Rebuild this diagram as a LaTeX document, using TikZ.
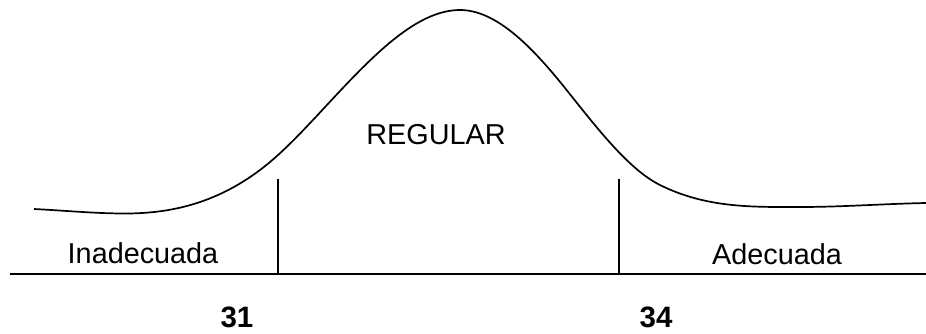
\documentclass[tikz,border=0pt]{standalone}
\usepackage{fontspec}
\setmainfont{Liberation Sans}
\begin{document}
\begin{tikzpicture}[x=1pt,y=-1pt,
  lbl/.style={anchor=base,inner sep=0pt,font=\fontsize{28.8}{34}\selectfont},
  num/.style={lbl,font=\fontsize{29.5}{34}\selectfont\bfseries},
  ln/.style={line width=1.7pt,black}]
\useasboundingbox (0,0) rectangle (926,333);
% axis
\coordinate (axL) at (10,274);
\coordinate (axR) at (926,274);
\draw[ln] (axL) -- (axR);
% cut lines
\coordinate (c1t) at (278,179);
\coordinate (c1b) at (278,274);
\coordinate (c2t) at (619,179);
\coordinate (c2b) at (619,274);
\draw[ln] (c1t) -- (c1b);
\draw[ln] (c2t) -- (c2b);
% curve
\coordinate (p0) at (34,209);
\coordinate (p1) at (125,213.5);
\coordinate (p2) at (260,170);
\coordinate (p3) at (340,91);
\coordinate (p4) at (460,10);
\coordinate (p5) at (565,88);
\coordinate (p6) at (660,185);
\coordinate (p7) at (800,207);
\coordinate (p8) at (926,203);
\draw[ln] (p0) .. controls (64,210.5) and (95,213.5) .. (p1)
  .. controls (170,213.5) and (215,203.75) .. (p2)
  .. controls (286.7,150) and (313.3,119.3) .. (p3)
  .. controls (380,48.6) and (420,10) .. (p4)
  .. controls (495,10) and (530,44.25) .. (p5)
  .. controls (596.7,127.6) and (628.3,169.2) .. (p6)
  .. controls (706.7,208.3) and (753.3,207) .. (p7)
  .. controls (842,207) and (884,203.8) .. (p8);
% labels
\node[lbl] (inad) at (143,263) {Inadecuada};
\node[lbl] (reg) at (436,144) {REGULAR};
\node[lbl] (adec) at (777,264) {Adecuada};
\node[num] (n31) at (237,327) {31};
\node[num] (n34) at (656,327) {34};
\end{tikzpicture}
\end{document}
